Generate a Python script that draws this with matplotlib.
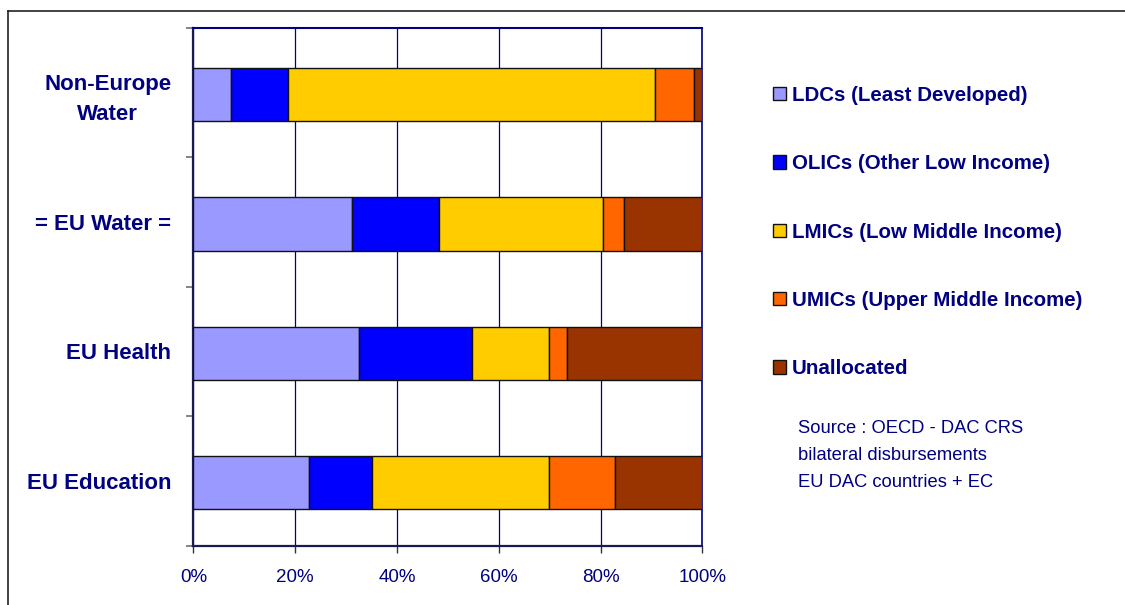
import matplotlib
matplotlib.use("Agg")
import matplotlib.pyplot as plt
from matplotlib.lines import Line2D
import numpy as np

plt.rcParams['font.family'] = ['Liberation Sans', 'DejaVu Sans']

categories = ["Non-Europe\nWater", "= EU Water =", "EU Health", "EU Education"]
series_names = ["LDCs (Least Developed)", "OLICs (Other Low Income)",
                "LMICs (Low Middle Income)", "UMICs (Upper Middle Income)",
                "Unallocated"]
ldc = [7.3, 31.2, 32.5, 22.7]
olic = [11.3, 17.0, 22.2, 12.3]
lmic = [72.2, 32.2, 15.2, 34.9]
umic = [7.6, 4.2, 3.5, 13.0]
unalloc = [1.6, 15.4, 26.6, 17.1]
colors = ["#9999FF", "#0000FF", "#FFCC00", "#FF6600", "#993300"]
xticks = [0, 20, 40, 60, 80, 100]
xticklabels = ["0%", "20%", "40%", "60%", "80%", "100%"]
source_text = "Source : OECD - DAC CRS\nbilateral disbursements\nEU DAC countries + EC"

navy = "#000080"
W, H = 1125, 605
fig = plt.figure(figsize=(W / 100, H / 100), dpi=100)
ax = fig.add_axes([193.5 / W, 1 - 545.5 / H, (702.3 - 193.5) / W, (545.5 - 28) / H])

ypos = np.arange(len(categories))[::-1]
left = np.zeros(len(categories))
handles = []
for vals, col, name in zip([ldc, olic, lmic, umic, unalloc], colors, series_names):
    b = ax.barh(ypos - 0.015, vals, left=left, height=0.41, color=col,
                edgecolor="#111111", linewidth=1.0, label=name, zorder=3)
    handles.append(b)
    left = left + np.array(vals)

ax.set_xlim(0, 100)
ax.set_ylim(-0.5, len(categories) - 0.5)
ax.set_xticks(xticks)
ax.set_xticklabels(xticklabels, fontsize=13.5, color=navy)
ax.tick_params(axis='x', direction='out', length=5, width=1, color="#333333", pad=12)
ax.set_yticks(ypos)
ax.set_yticklabels(categories, fontsize=16, fontweight='bold', color=navy,
                   multialignment='center', linespacing=1.55)
ax.tick_params(axis='y', which='major', length=0, pad=16)
ax.set_yticks(np.arange(-0.5, len(categories)), minor=True)
ax.tick_params(axis='y', which='minor', length=5, width=1.2, color="#707070", direction='out')
ax.grid(axis='x', color=navy, linewidth=0.9, zorder=0)
ax.set_axisbelow(True)
for s in ['left', 'bottom']:
    ax.spines[s].set_color("#1a1a50")
    ax.spines[s].set_linewidth(1.6)
ax.spines['top'].set_color(navy)
ax.spines['top'].set_linewidth(1.5)
ax.spines['right'].set_color(navy)
ax.spines['right'].set_linewidth(1.2)

leg = fig.legend(handles=handles, labels=series_names, loc='upper left',
                 bbox_to_anchor=(773 / W, 1 - 86 / H), frameon=False,
                 prop={'size': 14.8, 'weight': 'bold'}, labelcolor=navy,
                 handlelength=0.62, handleheight=0.62, handletextpad=0.3,
                 labelspacing=2.4, borderpad=0, borderaxespad=0)

fig.text(798 / W, 1 - 420 / H, source_text, fontsize=13.2, color=navy,
         va='top', ha='left', linespacing=1.78)

fig.add_artist(Line2D([8 / W, 8 / W], [0, 1 - 11 / H], color="#222222", linewidth=1.2))
fig.add_artist(Line2D([8 / W, 1], [1 - 11 / H, 1 - 11 / H], color="#222222", linewidth=1.2))

fig.savefig("out.png", dpi=100, facecolor="white")
